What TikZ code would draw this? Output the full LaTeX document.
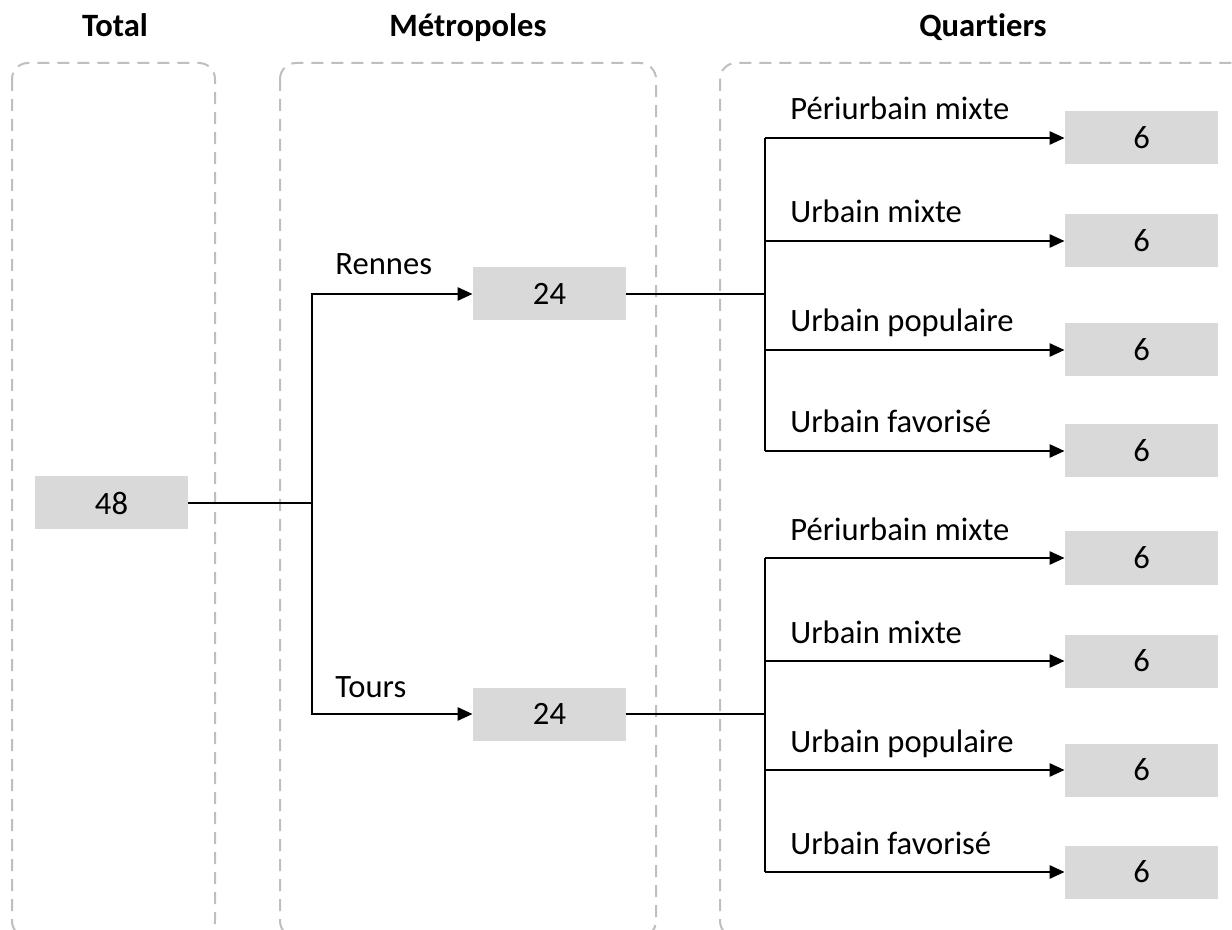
\documentclass[tikz,border=0pt]{standalone}
\usepackage{fontspec}
\setmainfont{Carlito}[Ligatures=NoCommon,RawFeature={-liga;-calt}]
\usetikzlibrary{arrows.meta}
\definecolor{boxgray}{HTML}{D9D9D9}
\definecolor{dashgray}{HTML}{BFBFBF}
\begin{document}
\begin{tikzpicture}[x=0.5pt,y=-0.5pt,
  font=\fontsize{16.3}{19}\selectfont,
  numbox/.style={fill=boxgray, minimum width=76.5pt, minimum height=26.5pt, inner sep=0pt},
  group/.style={draw=dashgray, line width=1pt, dash pattern=on 6pt off 4pt, rounded corners=8pt},
  title/.style={font=\fontsize{16.3}{19}\selectfont\bfseries, anchor=base, inner sep=0pt},
  conn/.style={line width=1.3pt, black},
  arr/.style={conn, -{Triangle[length=7.5pt,width=6.5pt]}},
  lbl/.style={anchor=base west, inner sep=0pt}
]
\useasboundingbox (0,0) rectangle (1232,930);
\clip (0,0) rectangle (1232,930);
\fill[white] (0,0) rectangle (1232,930);

% group frames
\draw[group] (12,63) rectangle (215,937);
\draw[group] (280,63) rectangle (656,937);
\draw[group] (720,63) rectangle (1250,937);

% titles
\node[title] (tTotal) at (115,37) {Total};
\node[title] (tMetro) at (468,37) {Métropoles};
\node[title] (tQuart) at (983,37) {Quart\kern0pt iers};

% boxes
\node[numbox] (total) at (111.5,503) {48};
\node[numbox] (ren) at (549.5,294) {24};
\node[numbox] (tou) at (549.5,714) {24};

\foreach \n/\y in {r1/138,r2/241,r3/350,r4/451,t1/558,t2/661,t3/770,t4/872}{
  \node[numbox] (\n) at (1141.5,\y) {6};
}

% junctions
\coordinate (jL) at (312,503);
\coordinate (jR) at (765,294);
\coordinate (jT) at (765,714);

% total -> metropoles
\draw[conn] (total.east) -- (jL);
\draw[arr] (jL) |- (ren.west);
\draw[arr] (jL) |- (tou.west);
\node[lbl] (lRen) at (335,275) {Rennes};
\node[lbl] (lTou) at (335,697) {Tours};

% Rennes -> quartiers
\draw[conn] (ren.east) -- (jR);
\draw[conn] (jR |- r1.west) -- (jR |- r4.west);
\foreach \n in {r1,r2,r3,r4}{
  \draw[arr] (jR |- \n.west) -- (\n.west);
}
% Tours -> quartiers
\draw[conn] (tou.east) -- (jT);
\draw[conn] (jT |- t1.west) -- (jT |- t4.west);
\foreach \n in {t1,t2,t3,t4}{
  \draw[arr] (jT |- \n.west) -- (\n.west);
}

% labels
\node[lbl] (lr1) at (790,120) {Périurbain mixte};
\node[lbl] (lr2) at (790,223) {Urbain mixte};
\node[lbl] (lr3) at (790,332) {Urbain populaire};
\node[lbl] (lr4) at (790,433) {Urbain favorisé};
\node[lbl] (lt1) at (790,540) {Périurbain mixte};
\node[lbl] (lt2) at (790,643) {Urbain mixte};
\node[lbl] (lt3) at (790,752) {Urbain populaire};
\node[lbl] (lt4) at (790,854) {Urbain favorisé};
\end{tikzpicture}
\end{document}
